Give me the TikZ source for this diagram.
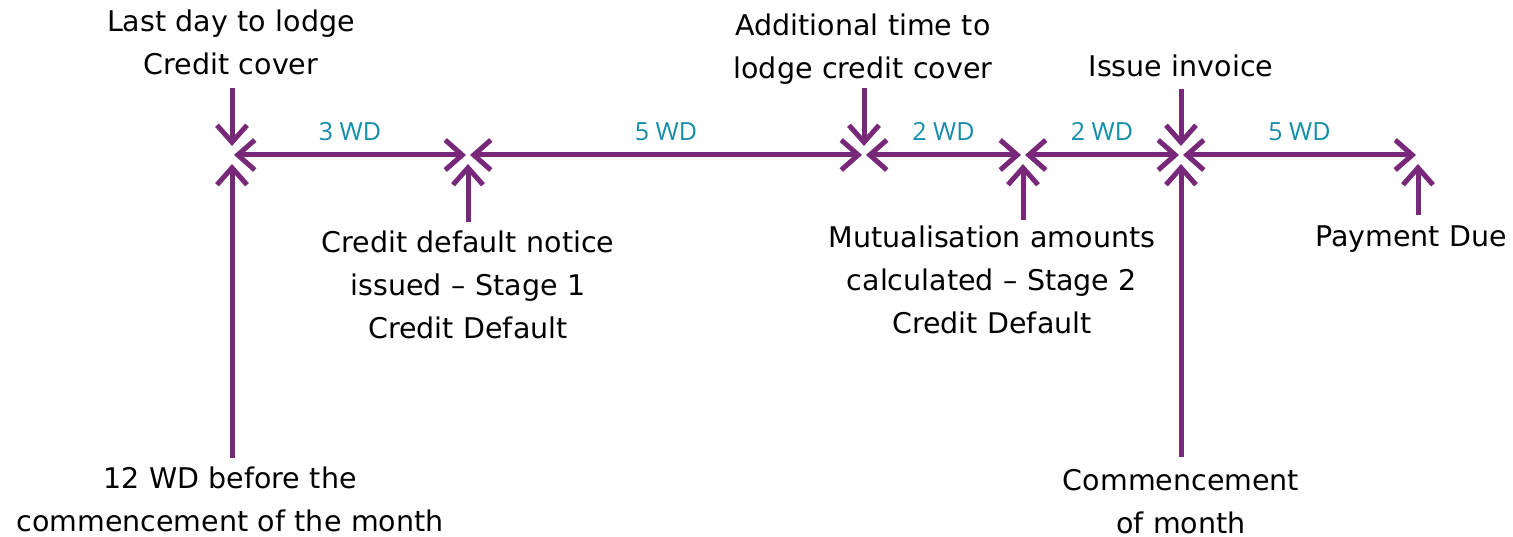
\documentclass[tikz,border=0pt]{standalone}
\usepackage{fontspec}
\setmainfont{DejaVu Sans}
\newfontfamily\wdfont{Open Sans}
\usetikzlibrary{arrows.meta}
\definecolor{tlpurple}{RGB}{120,40,120}
\definecolor{tlteal}{RGB}{18,140,168}
\begin{document}
\begin{tikzpicture}[x=1pt,y=-1pt,
  barb/.tip={Straight Barb[length=17pt,width=30pt,line width=5pt]},
  conn/.style={draw=tlpurple, line width=5pt, -barb},
  spanarrow/.style={draw=tlpurple, line width=5pt, barb-barb},
  caption/.style={font=\fontsize{28.5}{43}\selectfont, text width=520pt, align=center, anchor=base, inner sep=0pt},
  wd/.style={font=\wdfont\fontsize{25}{28}\selectfont, text=tlteal, anchor=base, inner sep=0pt}]
\useasboundingbox (0,0) rectangle (1513,537);

% timeline points
\coordinate (p1) at (232,155);
\coordinate (p2) at (468,155);
\coordinate (p3) at (864,155);
\coordinate (p4) at (1023,155);
\coordinate (p5) at (1181,155);
\coordinate (p6) at (1418,155);

% captions
\node[caption] (lastday) at (231,32) {Last day to lodge\\Credit cover};
\node[caption] (addtime) at (863,36) {Additional time to\\lodge credit cover};
\node[caption] (issue) at (1181,77) {Issue invoice};
\node[caption] (notice) at (468,253) {Credit default notice\\issued – Stage 1\\Credit Default};
\node[caption] (mutual) at (992,248) {Mutualisation amounts\\calculated – Stage 2\\Credit Default};
\node[caption] (payment) at (1411,247) {Payment Due};
\node[caption] (twelve) at (230,488) {12 WD before the\\commencement of the month};
\node[caption] (commence) at (1181,490) {Commencement\\of month};

% arrow start points
\coordinate (s1) at (232,88);
\coordinate (s2) at (232,458);
\coordinate (s3) at (468,222);
\coordinate (s4) at (864,88);
\coordinate (s5) at (1023,220);
\coordinate (s6) at (1181,89);
\coordinate (s7) at (1181,457);
\coordinate (s8) at (1418,215);

% horizontal spans
\draw[spanarrow] ([xshift=2pt]p1) -- node[wd, midway, yshift=14pt] {3 WD} ([xshift=-2pt]p2);
\draw[spanarrow] ([xshift=2pt]p2) -- node[wd, midway, yshift=14pt] {5 WD} ([xshift=-2pt]p3);
\draw[spanarrow] ([xshift=2pt]p3) -- node[wd, midway, yshift=14pt] {2 WD} ([xshift=-2pt]p4);
\draw[spanarrow] ([xshift=2pt]p4) -- node[wd, midway, yshift=14pt] {2 WD} ([xshift=-2pt]p5);
\draw[spanarrow] ([xshift=2pt]p5) -- node[wd, midway, yshift=14pt] {5 WD} ([xshift=-2pt]p6);

% vertical arrows
\draw[conn] (s1) -- ([yshift=9pt]p1);
\draw[conn] (s2) -- ([yshift=-9pt]p1);
\draw[conn] (s3) -- ([yshift=-9pt]p2);
\draw[conn] (s4) -- ([yshift=9pt]p3);
\draw[conn] (s5) -- ([yshift=-9pt]p4);
\draw[conn] (s6) -- ([yshift=9pt]p5);
\draw[conn] (s7) -- ([yshift=-9pt]p5);
\draw[conn] (s8) -- ([yshift=-9pt]p6);
\end{tikzpicture}
\end{document}
